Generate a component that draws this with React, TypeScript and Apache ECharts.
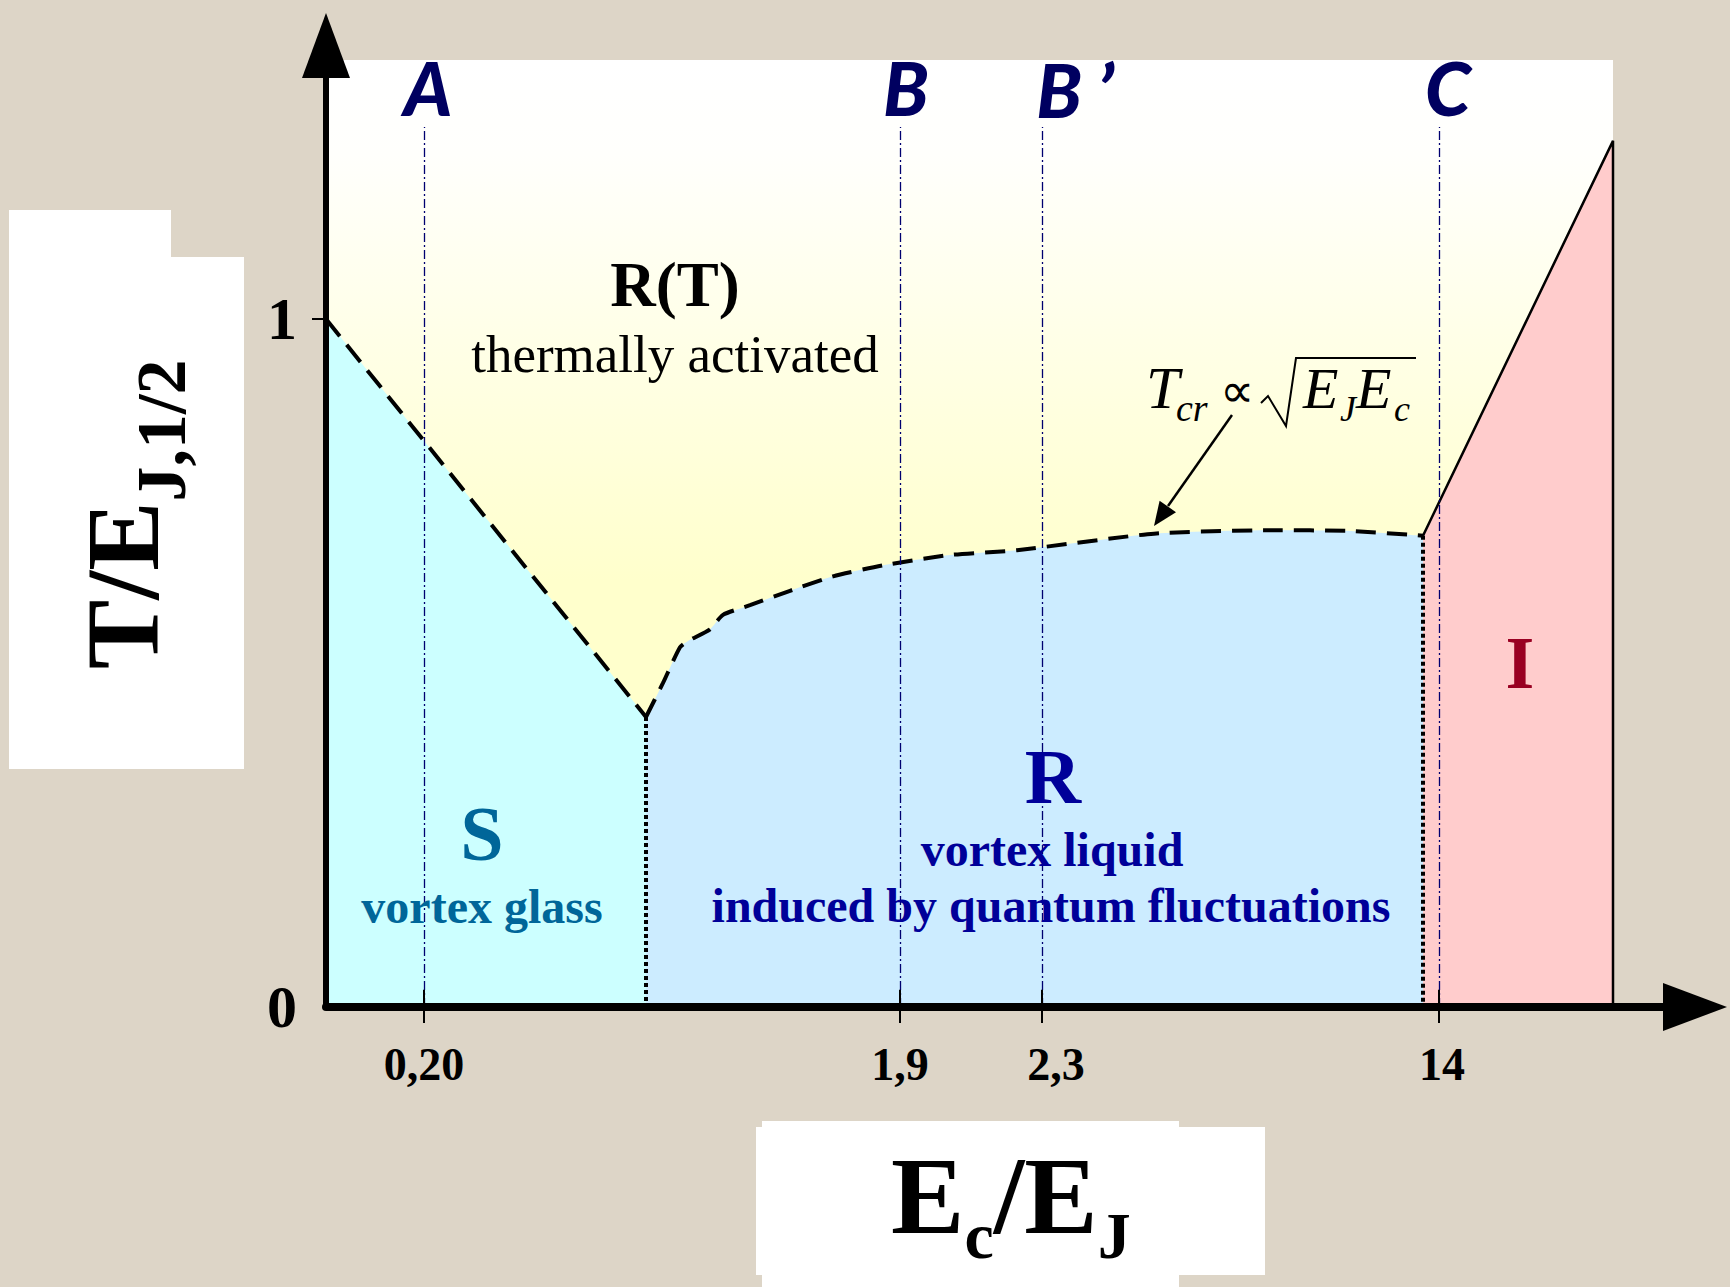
import React, { useEffect, useRef } from 'react';
import * as echarts from 'echarts';

const W = 1730;
const H = 1287;

// Schematic (non-linear) E_c/E_J axis positions and labels
const xTickPos = [0.98, 5.74, 7.16, 11.13];
const xTickLabels = ['0,20', '1,9', '2,3', '14'];
const markerNames = ['A', 'B', 'B ’', 'C'];
const yTickPos = [0, 1];
const yTickLabels = ['0', '1'];

// Superconducting (vortex glass) boundary: thermal crossover line
const sBoundX = [0, 3.2];
const sBoundY = [1, 0.4215];
// T_cr ~ sqrt(EJ Ec) boundary of the quantum vortex liquid
const tcrX = [3.2, 3.37, 3.54, 3.62, 3.84, 3.97, 4.24, 4.64, 5.07, 5.57, 6.24, 6.91, 8.28, 9.44, 10.24, 10.97];
const tcrY = [0.4215, 0.471, 0.523, 0.532, 0.549, 0.57, 0.584, 0.605, 0.626, 0.642, 0.657, 0.664, 0.688, 0.693, 0.692, 0.685];
// Insulator region boundary
const insX = [10.97, 12.87, 12.87];
const insY = [0.685, 1.259, 0];
// vertical phase boundaries (dotted)
const srX = [3.2, 3.2];
const srY = [0.4215, 0];
const riX = [10.97, 10.97];
const riY = [0.685, 0];

const X_MAX = 13.37;
const X_EDGE = 12.87;
const Y_MAX = 1.3765;
const MARKER_TOP = 1.279;
const MARKER_LABEL_Y = 1.337;
const TICK_UP = 0.025;

const SERIF = '"Liberation Serif", "Times New Roman", serif';
const LETTER_FONT = 'Lato, "Open Sans", sans-serif';

const zip = (xs: number[], ys: number[]) => xs.map((x, i) => [x, ys[i]]);

function txt(x: number, y: number, text: string, font: string, fill: string, align = 'center', z = 100) {
  return {
    type: 'text',
    x,
    y,
    z,
    silent: true,
    style: { text, font, fill, textAlign: align, textVerticalAlign: 'middle' },
  };
}

export default function App() {
  const ref = useRef<HTMLDivElement>(null);

  useEffect(() => {
    document.body.style.margin = '0';
    const chart = echarts.init(ref.current!, undefined, { renderer: 'svg', width: W, height: H });

    const markerOffsets = [[4, 0], [6, 0], [33, 2], [9, 0]];
    const xLabelShift = [0, 0, 28, 6];

    const option: any = {
      animation: false,
      backgroundColor: '#DDD5C7',
      grid: { left: 326, top: 60, width: 1337, height: 947, outerBoundsMode: 'none', containLabel: false },
      xAxis: {
        type: 'value',
        min: 0,
        max: X_MAX,
        z: 10,
        splitLine: { show: false },
        axisLine: {
          show: true,
          onZero: false,
          lineStyle: { color: '#000', width: 8 },
          symbol: ['none', 'triangle'],
          symbolSize: [48, 64],
          symbolOffset: [0, 32],
        },
        axisTick: { show: true, customValues: xTickPos, length: 16, lineStyle: { color: '#000', width: 2 } },
        axisLabel: {
          show: true,
          customValues: xTickPos,
          formatter: (v: number) => {
            const i = xTickPos.findIndex((p) => Math.abs(p - v) < 1e-6);
            return i >= 0 ? `{s${i}|${xTickLabels[i]}}` : '';
          },
          margin: 34,
          fontSize: 46,
          fontWeight: 'bold',
          fontFamily: SERIF,
          color: '#000',
          rich: Object.fromEntries(
            xTickLabels.map((_, i) => [
              `s${i}`,
              {
                fontSize: 46,
                fontWeight: 'bold',
                fontFamily: SERIF,
                color: '#000',
                padding: [0, 0, 0, xLabelShift[i]],
              },
            ])
          ),
        },
      },
      yAxis: {
        type: 'value',
        min: 0,
        max: Y_MAX,
        z: 10,
        splitLine: { show: false },
        axisLine: {
          show: true,
          onZero: false,
          lineStyle: { color: '#000', width: 6 },
          symbol: ['none', 'triangle'],
          symbolSize: [48, 65],
          symbolOffset: [0, 14.5],
        },
        axisTick: { show: true, customValues: [1], length: 14, lineStyle: { color: '#000', width: 2 } },
        axisLabel: {
          show: true,
          customValues: yTickPos,
          formatter: (v: number) => {
            const i = yTickPos.findIndex((p) => Math.abs(p - v) < 1e-6);
            return i >= 0 ? yTickLabels[i] : '';
          },
          margin: 29,
          fontSize: 60,
          fontWeight: 'bold',
          fontFamily: SERIF,
          color: '#000',
        },
      },
      series: [
        {
          type: 'line',
          name: 'thermal',
          data: [[0, Y_MAX], [X_EDGE, Y_MAX]],
          symbol: 'none',
          silent: true,
          z: 1,
          lineStyle: { width: 0 },
          areaStyle: {
            opacity: 1,
            color: new echarts.graphic.LinearGradient(0, 0, 0, 1, [
              { offset: 0, color: '#FFFFFF' },
              { offset: 0.1, color: '#FFFFFC' },
              { offset: 0.55, color: '#FFFFCC' },
              { offset: 1, color: '#FFFFCC' },
            ]),
          },
          markLine: {
            silent: true,
            symbol: ['none', 'none'],
            label: { show: false },
            lineStyle: { color: '#000070', width: 1.3, type: [9, 3, 2, 3] },
            data: xTickPos.map((x) => [{ coord: [x, 0] }, { coord: [x, MARKER_TOP] }]),
          },
        },
        {
          type: 'line',
          name: 'S',
          data: zip(sBoundX, sBoundY),
          symbol: 'none',
          z: 2,
          lineStyle: { color: '#000', width: 4, type: [22, 11] },
          areaStyle: { color: '#CCFFFF', opacity: 1 },
        },
        {
          type: 'line',
          name: 'R',
          data: zip(tcrX, tcrY),
          symbol: 'none',
          smooth: 0.2,
          z: 2,
          lineStyle: { color: '#000', width: 4, type: [20, 11] },
          areaStyle: { color: '#CCECFF', opacity: 1 },
        },
        {
          type: 'line',
          name: 'I',
          data: zip(insX, insY),
          symbol: 'none',
          z: 2,
          lineStyle: { color: '#000', width: 2.5 },
          areaStyle: { color: '#FFCCCC', opacity: 1 },
          markLine: {
            silent: true,
            symbol: ['none', 'none'],
            label: { show: false },
            lineStyle: { color: '#000', width: 2, type: 'solid' },
            data: xTickPos.map((x) => [{ coord: [x, 0] }, { coord: [x, TICK_UP] }]),
          },
        },
        {
          type: 'line',
          name: 'S-R',
          data: zip(srX, srY),
          symbol: 'none',
          z: 3,
          lineStyle: { color: '#000', width: 4, type: [4, 3] },
        },
        {
          type: 'line',
          name: 'R-I',
          data: zip(riX, riY),
          symbol: 'none',
          z: 3,
          lineStyle: { color: '#000', width: 4, type: [4, 3] },
        },
        {
          type: 'scatter',
          name: 'markers',
          symbol: 'circle',
          symbolSize: 1,
          itemStyle: { color: 'rgba(0,0,0,0)' },
          z: 6,
          silent: true,
          data: xTickPos.map((x, i) => ({
            value: [x, MARKER_LABEL_Y],
            label: { formatter: markerNames[i], offset: markerOffsets[i] },
          })),
          label: {
            show: true,
            position: 'inside',
            fontFamily: LETTER_FONT,
            fontWeight: 900,
            fontStyle: 'italic',
            fontSize: 74,
            color: '#000060',
            opacity: 1,
            textBorderWidth: 0,
          },
        },
      ],
      graphic: [
        // title boxes
        { type: 'rect', z: 50, shape: { x: 9, y: 210, width: 162, height: 50 }, style: { fill: '#FFFFFF' } },
        { type: 'rect', z: 50, shape: { x: 9, y: 257, width: 235, height: 512 }, style: { fill: '#FFFFFF' } },
        { type: 'rect', z: 50, shape: { x: 756, y: 1127, width: 509, height: 148 }, style: { fill: '#FFFFFF' } },
        { type: 'rect', z: 50, shape: { x: 762, y: 1121, width: 417, height: 166 }, style: { fill: '#FFFFFF' } },
        // y title
        {
          type: 'group',
          x: 158,
          y: 669,
          rotation: Math.PI / 2,
          z: 100,
          children: [
            txt(0, -35.1, 'T/E', `bold 104px ${SERIF}`, '#000', 'left'),
            txt(167.6, 3.4, 'J,1/2', `bold 70px ${SERIF}`, '#000', 'left'),
          ],
        },
        // x title
        {
          type: 'group',
          x: 891,
          y: 1233,
          z: 100,
          children: [
            txt(0, -37.1, 'E', `bold 110px ${SERIF}`, '#000', 'left'),
            txt(73.4, 2.7, 'c', `bold 66px ${SERIF}`, '#000', 'left'),
            txt(102.7, -37.1, '/', `bold 110px ${SERIF}`, '#000', 'left'),
            txt(133.3, -37.1, 'E', `bold 110px ${SERIF}`, '#000', 'left'),
            txt(206.7, 2.7, 'J', `bold 66px ${SERIF}`, '#000', 'left'),
          ],
        },
        // region labels
        txt(675, 285, 'R(T)', `bold 63px ${SERIF}`, '#000'),
        txt(675, 354, 'thermally activated', `53px ${SERIF}`, '#000'),
        txt(482, 833, 'S', `bold 78px ${SERIF}`, '#006699'),
        txt(482, 906, 'vortex glass', `bold 48px ${SERIF}`, '#006699'),
        txt(1053, 776, 'R', `bold 78px ${SERIF}`, '#000099'),
        txt(1052, 849, 'vortex liquid', `bold 48px ${SERIF}`, '#000099'),
        txt(1051, 905, 'induced by quantum fluctuations', `bold 48px ${SERIF}`, '#000099'),
        txt(1520, 663, 'I', `bold 74px ${SERIF}`, '#990022'),
        // formula T_cr ∝ sqrt(E_J E_c)
        txt(1146, 387.8, 'T', `italic 60px ${SERIF}`, '#000', 'left'),
        txt(1176, 408.2, 'cr', `italic 38px ${SERIF}`, '#000', 'left'),
        txt(1237, 390, '∝', `48px ${SERIF}`, '#000'),
        {
          type: 'polyline',
          z: 100,
          silent: true,
          shape: { points: [[1261, 403], [1268, 396], [1286, 426], [1296, 358], [1416, 358]] },
          style: { stroke: '#000', lineWidth: 2, fill: 'none' },
        },
        txt(1303, 388.4, 'E', `italic 58px ${SERIF}`, '#000', 'left'),
        txt(1340, 408.9, 'J', `italic 36px ${SERIF}`, '#000', 'left'),
        txt(1356, 388.4, 'E', `italic 58px ${SERIF}`, '#000', 'left'),
        txt(1394, 408.9, 'c', `italic 36px ${SERIF}`, '#000', 'left'),
        // arrow to the T_cr curve
        {
          type: 'line',
          z: 100,
          silent: true,
          shape: { x1: 1232, y1: 415, x2: 1168, y2: 506 },
          style: { stroke: '#000', lineWidth: 2.5 },
        },
        {
          type: 'polygon',
          z: 100,
          silent: true,
          shape: { points: [[1154, 526], [1176, 512.2], [1159.6, 500.7]] },
          style: { fill: '#000' },
        },
      ],
    };

    chart.setOption(option);
    return () => chart.dispose();
  }, []);

  return <div ref={ref} style={{ width: W, height: H }} />;
}
